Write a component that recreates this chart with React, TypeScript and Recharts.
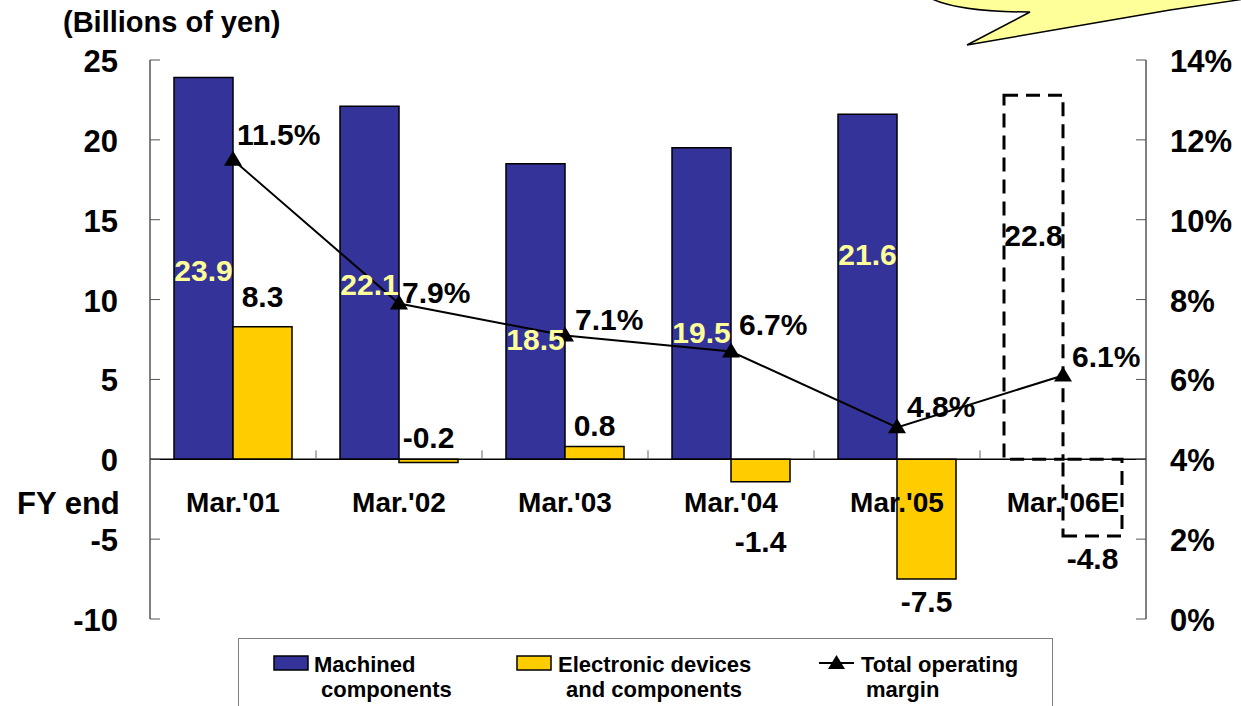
import React from 'react';
import {
  ComposedChart,
  Bar,
  Line,
  XAxis,
  YAxis,
  Cell,
  LabelList,
  ReferenceLine,
  Legend
} from 'recharts';

// --- data ---
const categories = ["Mar.'01", "Mar.'02", "Mar.'03", "Mar.'04", "Mar.'05", "Mar.'06E"];
const machined = [23.9, 22.1, 18.5, 19.5, 21.6, 22.8];
const electronic = [8.3, -0.2, 0.8, -1.4, -7.5, -4.8];
const opMargin = [11.5, 7.9, 7.1, 6.7, 4.8, 6.1];
const estimated = [false, false, false, false, false, true];
const leftTicks = [-10, -5, 0, 5, 10, 15, 20, 25];
const rightTicks = [0, 2, 4, 6, 8, 10, 12, 14];

const data = categories.map((category, i) => ({
  category,
  machined: machined[i],
  electronic: electronic[i],
  margin: opMargin[i],
  est: estimated[i]
}));

// --- layout ---
const W = 1241;
const H = 706;
const PLOT = { left: 150, right: 1146, top: 60, bottom: 619 };
const LEFT_DOMAIN = [-10, 25];
const ZERO_Y = PLOT.top + (LEFT_DOMAIN[1] / (LEFT_DOMAIN[1] - LEFT_DOMAIN[0])) * (PLOT.bottom - PLOT.top);
const BAND = (PLOT.right - PLOT.left) / categories.length;
const FONT = '"Liberation Sans", Arial, Helvetica, sans-serif';

const NAVY = '#333399';
const GOLD = '#FFCC00';
const PALE = '#FFFF99';

// label nudges, like the hand-placed labels of the original
const MACHINED_SHIFT = [2, 1, 27, 28, -33, -42];
const MARGIN_DX = [4, 3, 10, 8, 10, 9];
const MARGIN_DY = [-15, -1, -6, -16, -10, -8];

const LeftTick = (props: any) => {
  const { y, payload } = props;
  return (
    <g>
      <line x1={PLOT.left} x2={PLOT.left + 10} y1={y} y2={y} stroke="#555" />
      <text x={PLOT.left - 32} y={y + 12} textAnchor="end" fontSize={31} fontWeight="bold" fontFamily={FONT} fill="#000">
        {payload.value}
      </text>
    </g>
  );
};

const RightTick = (props: any) => {
  const { y, payload } = props;
  return (
    <g>
      <line x1={PLOT.right - 10} x2={PLOT.right} y1={y} y2={y} stroke="#555" />
      <text x={PLOT.right + 24} y={y + 12} textAnchor="start" fontSize={31} fontWeight="bold" fontFamily={FONT} fill="#000">
        {payload.value}%
      </text>
    </g>
  );
};

const CategoryTick = (props: any) => {
  const { x, payload, index } = props;
  return (
    <g>
      {index < categories.length - 1 && (
        <line x1={x + BAND / 2} x2={x + BAND / 2} y1={ZERO_Y} y2={ZERO_Y - 9} stroke="#666" />
      )}
      <text x={x} y={ZERO_Y + 53} textAnchor="middle" fontSize={28} fontWeight="bold" fontFamily={FONT} fill="#000">
        {payload.value}
      </text>
    </g>
  );
};

const idxOf = (props: any, arr: number[]) =>
  typeof props.index === 'number' ? props.index : arr.indexOf(Number(props.value));

const MachinedLabel = (props: any) => {
  const i = idxOf(props, machined);
  const x = Number(props.x), y = Number(props.y), w = Number(props.width), h = Number(props.height);
  const top = Math.min(y, y + h);
  const mid = top + Math.abs(h) / 2 + MACHINED_SHIFT[i];
  return (
    <text x={x + w / 2} y={mid + 11} textAnchor="middle" fontSize={30} fontWeight="bold" fontFamily={FONT}
      fill={estimated[i] ? '#000' : PALE}>
      {machined[i].toFixed(1)}
    </text>
  );
};

const ElectronicLabel = (props: any) => {
  const i = idxOf(props, electronic);
  const v = electronic[i];
  const x = Number(props.x), y = Number(props.y), w = Number(props.width), h = Number(props.height);
  const top = Math.min(y, y + h);
  const bottom = Math.max(y, y + h);
  let base;
  if (v >= 1) base = top - 20;
  else if (v > -1) base = top - 11;
  else base = Math.max(bottom + 33, ZERO_Y + 93);
  return (
    <text x={x + w / 2} y={base} textAnchor="middle" fontSize={30} fontWeight="bold" fontFamily={FONT} fill="#000">
      {v.toFixed(1)}
    </text>
  );
};

const MarginLabel = (props: any) => {
  const i = idxOf(props, opMargin);
  const x = Number(props.x), y = Number(props.y);
  return (
    <text x={x + MARGIN_DX[i]} y={y + MARGIN_DY[i]} textAnchor="start" fontSize={30} fontWeight="bold" fontFamily={FONT} fill="#000">
      {opMargin[i].toFixed(1)}%
    </text>
  );
};

const Triangle = (props: any) => {
  const { cx, cy, index } = props;
  return <path key={`tri-${index}`} d={`M${cx},${cy - 9} L${cx + 9},${cy + 6} L${cx - 9},${cy + 6} Z`} fill="#000" />;
};

const LegendBox = () => (
  <div style={{ width: 815, height: 68, border: '1px solid #808080', borderBottom: 'none', boxSizing: 'border-box', background: '#fff' }}>
    <svg width={813} height={67} style={{ display: 'block' }} fontFamily={FONT} fontWeight="bold" fontSize={22}>
      <rect x={35} y={17} width={34} height={14} fill={NAVY} stroke="#000" strokeWidth={1.5} />
      <text x={75} y={33}>Machined</text>
      <text x={82} y={58}>components</text>
      <rect x={278} y={17} width={34} height={14} fill={GOLD} stroke="#000" strokeWidth={1.5} />
      <text x={319} y={33}>Electronic devices</text>
      <text x={327} y={58}>and components</text>
      <line x1={580} x2={615} y1={24} y2={24} stroke="#000" strokeWidth={2} />
      <path d="M597.5,16 L606,30 L589,30 Z" fill="#000" />
      <text x={622} y={33}>Total operating</text>
      <text x={627} y={58}>margin</text>
    </svg>
  </div>
);

export default function App() {
  return (
    <div style={{ position: 'absolute', top: 0, left: 0, width: W, height: H, overflow: 'hidden', background: '#fff' }}>
      <ComposedChart
        width={W}
        height={H}
        data={data}
        margin={{ top: PLOT.top, left: PLOT.left - 80, right: W - PLOT.right - 80, bottom: H - PLOT.bottom - 30 }}
        barGap={0}
        barCategoryGap={24}
      >
        <XAxis dataKey="category" height={30} axisLine={false} tickLine={false} interval={0} tick={<CategoryTick />} />
        <YAxis yAxisId="left" width={80} domain={LEFT_DOMAIN} ticks={leftTicks} interval={0}
          axisLine={{ stroke: '#000' }} tickLine={false} tick={<LeftTick />} />
        <YAxis yAxisId="right" orientation="right" width={80} domain={[0, 14]} ticks={rightTicks} interval={0}
          axisLine={{ stroke: '#000' }} tickLine={false} tick={<RightTick />} />
        <ReferenceLine yAxisId="left" y={0} stroke="#000" strokeWidth={1.5} />
        <Bar yAxisId="left" dataKey="machined" fill={NAVY} stroke="#000" strokeWidth={1.5} isAnimationActive={false}>
          {data.map((d, i) => (
            <Cell key={`m-${i}`} fill={d.est ? 'none' : NAVY} stroke="#000"
              strokeWidth={d.est ? 3 : 1.5} strokeDasharray={d.est ? '14 8' : undefined} />
          ))}
          <LabelList dataKey="machined" content={<MachinedLabel />} />
        </Bar>
        <Bar yAxisId="left" dataKey="electronic" fill={GOLD} stroke="#000" strokeWidth={1.5} isAnimationActive={false}>
          {data.map((d, i) => (
            <Cell key={`e-${i}`} fill={d.est ? 'none' : GOLD} stroke="#000"
              strokeWidth={d.est ? 3 : 1.5} strokeDasharray={d.est ? '14 8' : undefined} />
          ))}
          <LabelList dataKey="electronic" content={<ElectronicLabel />} />
        </Bar>
        <Line yAxisId="right" dataKey="margin" stroke="#000" strokeWidth={2} dot={<Triangle />} activeDot={false}
          isAnimationActive={false}>
          <LabelList dataKey="margin" content={<MarginLabel />} />
        </Line>
        <Legend layout="horizontal" align="center" verticalAlign="middle" content={<LegendBox />}
          wrapperStyle={{ left: 238, top: 638, width: 815, height: 68 }} />
      </ComposedChart>
      <svg width={W} height={H} style={{ position: 'absolute', top: 0, left: 0, pointerEvents: 'none' }} fontFamily={FONT} fontWeight="bold">
        <path d="M930,-2 C950,8 990,12 1030,12 L967,45 L1170,10 L1245,-1 Z" fill={PALE} stroke="#000" strokeWidth={1.5} />
        <text x={63} y={32} fontSize={29} fill="#000">(Billions of yen)</text>
        <text x={17} y={514} fontSize={31} fill="#000">FY end</text>
      </svg>
    </div>
  );
}
